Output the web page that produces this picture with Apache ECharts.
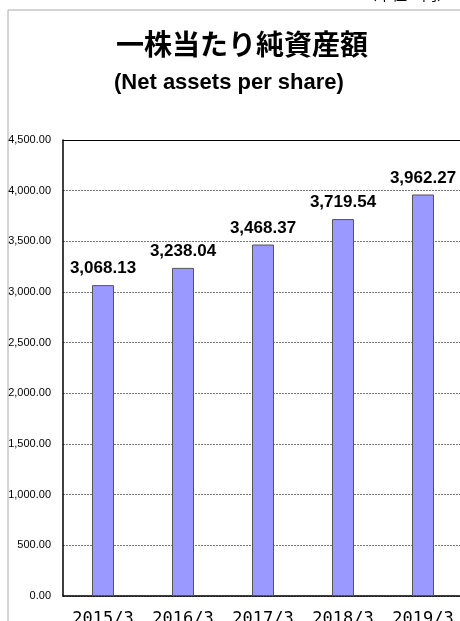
<!DOCTYPE html>
<html lang="ja">
<head>
<meta charset="UTF-8">
<title>一株当たり純資産額</title>
<script src="https://cdn.jsdelivr.net/npm/echarts@6/dist/echarts.min.js"></script>
<style>
  html, body { margin: 0; padding: 0; background: #fff; }
  #chart { width: 460px; height: 621px; }
</style>
</head>
<body>
<div id="chart"></div>
<script>
const years = ["2015/3", "2016/3", "2017/3", "2018/3", "2019/3"];
const netAssets = [3068.13, 3238.04, 3468.37, 3719.54, 3962.27];
const yMin = 0, yMax = 4500, yStep = 500;

function fmt(v) {
  return v.toFixed(2).replace(/\B(?=(\d{3})+(?!\d))/g, ",");
}

const chart = echarts.init(document.getElementById("chart"));
chart.setOption({
  animation: false,
  graphic: [
    { type: "polyline", shape: { points: [[8, 621], [8, 10], [460, 10]] },
      style: { stroke: "#aaa", lineWidth: 1, fill: null } },
    { type: "text", right: 8, top: -13,
      style: { text: "（単位：円）", font: '15px "Noto Sans CJK JP"', fill: "#000" } },
    { type: "text", left: 116, top: 30,
      style: { text: "一株当たり純資産額", font: 'bold 28px "Noto Sans CJK JP"', fill: "#000" } },
    { type: "text", left: 114, top: 72,
      style: { text: "(Net assets per share)", font: 'bold 22px "Liberation Sans"', fill: "#000" } }
  ],
  grid: { left: 63, top: 140, width: 400, height: 456, outerBoundsMode: "none", containLabel: false },
  xAxis: [{
    type: "category",
    data: years,
    axisLine: { lineStyle: { color: "#000", width: 1.5 } },
    axisTick: { show: false },
    axisLabel: { interval: 0, fontFamily: "DejaVu Sans Mono", fontSize: 17, color: "#000", margin: 15 }
  }, {
    type: "category",
    position: "top",
    data: years,
    axisLine: { lineStyle: { color: "#000", width: 1 } },
    axisTick: { show: false },
    axisLabel: { show: false }
  }],
  yAxis: {
    type: "value",
    min: yMin, max: yMax, interval: yStep,
    axisLine: { show: true, lineStyle: { color: "#000", width: 1.5 } },
    axisTick: { show: false },
    axisLabel: { formatter: fmt, fontFamily: "Liberation Sans", fontSize: 11, color: "#000", margin: 12 },
    splitLine: { lineStyle: { color: "#777", type: [2, 1], width: 1 } }
  },
  series: [{
    type: "bar",
    data: netAssets,
    barWidth: 22,
    itemStyle: { color: "#9999ff", borderColor: "#555", borderWidth: 1 },
    label: {
      show: true, position: "top", distance: 8,
      formatter: p => fmt(p.value),
      fontFamily: "Liberation Sans", fontWeight: "bold", fontSize: 17, color: "#000"
    }
  }]
});
</script>
</body>
</html>
